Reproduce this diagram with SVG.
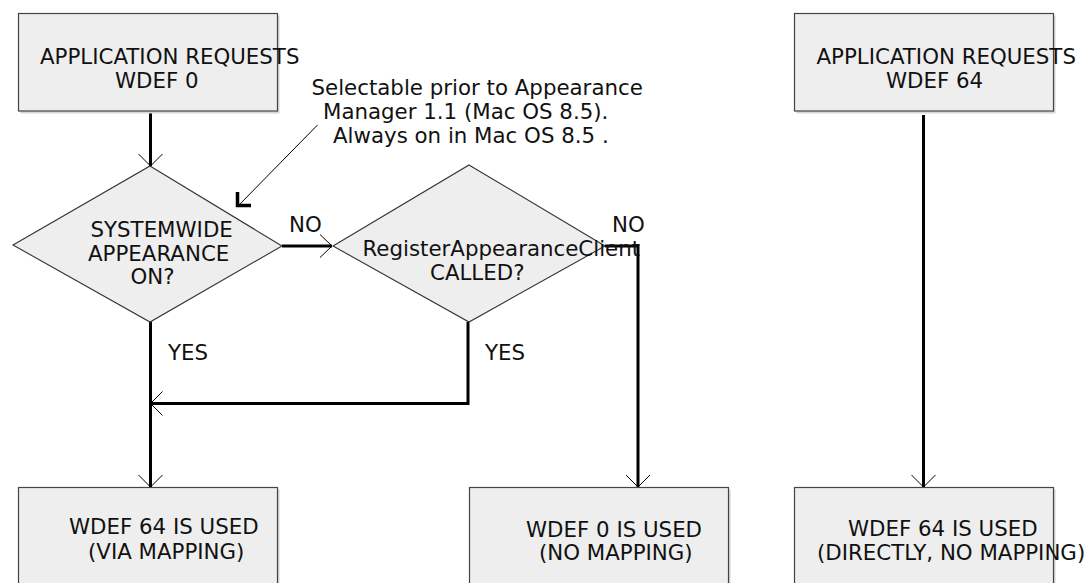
<svg xmlns="http://www.w3.org/2000/svg" width="1086" height="583" viewBox="0 0 1086 583">
<style>
.box{fill:#eeeeee;stroke:#444444;stroke-width:1.2}
.shadow{fill:#d6d6d6;stroke:none}
.dia{fill:#eeeeee;stroke:#333333;stroke-width:1.1}
text{font-family:"DejaVu Sans","Liberation Sans",sans-serif;font-size:21.33px;fill:#111111}
.conn{fill:none;stroke:#000000;stroke-width:3}
.head{fill:none;stroke:#000000;stroke-width:1}
.note{fill:none;stroke:#000000;stroke-width:1}
.lhead{fill:none;stroke:#000000;stroke-width:3.5}
</style>
<rect width="1086" height="583" fill="#ffffff"/>
<g id="connectors">
<line class="conn" x1="150.5" y1="111" x2="150.5" y2="166"/>
<polyline class="head" points="138.5,154 150.5,166 162.5,154"/>
<line class="conn" x1="282" y1="246" x2="332" y2="246"/>
<polyline class="head" points="320,234.5 332,246 320,257.5"/>
<line class="conn" x1="150.5" y1="322" x2="150.5" y2="487"/>
<polyline class="head" points="138.5,475 150.5,487 162.5,475"/>
<polyline class="conn" points="468,322 468,403.5 151,403.5"/>
<polyline class="head" points="162.5,391.5 150.5,403.5 162.5,415.5"/>
<polyline class="conn" points="605,246 638,246 638,487"/>
<polyline class="head" points="626,475 638,487 650,475"/>
<line class="conn" x1="923.5" y1="115" x2="923.5" y2="487"/>
<polyline class="head" points="911.5,475 923.5,487 935.5,475"/>
<line class="note" x1="317.5" y1="125" x2="239" y2="205"/>
<polyline class="lhead" points="237.5,192 237.5,205.5 251,205.5"/>
<text x="289" y="232">NO</text>
<text x="612" y="232">NO</text>
<text x="168" y="360">YES</text>
<text x="485" y="360">YES</text>
</g>
<g id="note">
<text x="311.5" y="95">Selectable prior to Appearance</text>
<text x="323" y="119">Manager 1.1 (Mac OS 8.5).</text>
<text x="333" y="143">Always on in Mac OS 8.5 .</text>
</g>
<g id="req0">
<rect class="shadow" x="20.5" y="15.5" width="259" height="98"/>
<rect class="box" x="18.5" y="13.5" width="259" height="97.5"/>
<text x="40" y="64">APPLICATION REQUESTS</text>
<text x="115" y="88">WDEF 0</text>
</g>
<g id="req64">
<rect class="shadow" x="796.5" y="15.5" width="259" height="98"/>
<rect class="box" x="794.5" y="13.5" width="259" height="97.5"/>
<text x="816.5" y="64">APPLICATION REQUESTS</text>
<text x="886" y="88">WDEF 64</text>
</g>
<g id="systemwide">
<polygon class="dia" points="150,166 282,246 150,322 13,245"/>
<text x="90.5" y="236.5">SYSTEMWIDE</text>
<text x="88" y="260.5">APPEARANCE</text>
<text x="130.5" y="284">ON?</text>
</g>
<g id="register">
<polygon class="dia" points="469,165 605,246 469,322 333,246"/>
<text x="362.5" y="256">RegisterAppearanceClient</text>
<text x="430" y="280">CALLED?</text>
</g>
<g id="used64map">
<rect class="shadow" x="20.5" y="489.5" width="259" height="110"/>
<rect class="box" x="18.5" y="487.5" width="259" height="110"/>
<text x="69" y="534">WDEF 64 IS USED</text>
<text x="88" y="559">(VIA MAPPING)</text>
</g>
<g id="used0">
<rect class="shadow" x="471.5" y="489.5" width="259" height="110"/>
<rect class="box" x="469.5" y="487.5" width="259" height="110"/>
<text x="526" y="536.5">WDEF 0 IS USED</text>
<text x="539" y="560">(NO MAPPING)</text>
</g>
<g id="used64direct">
<rect class="shadow" x="796.5" y="489.5" width="259" height="110"/>
<rect class="box" x="794.5" y="487.5" width="259" height="110"/>
<text x="848" y="536">WDEF 64 IS USED</text>
<text x="817" y="559.5">(DIRECTLY, NO MAPPING)</text>
</g>
</svg>
